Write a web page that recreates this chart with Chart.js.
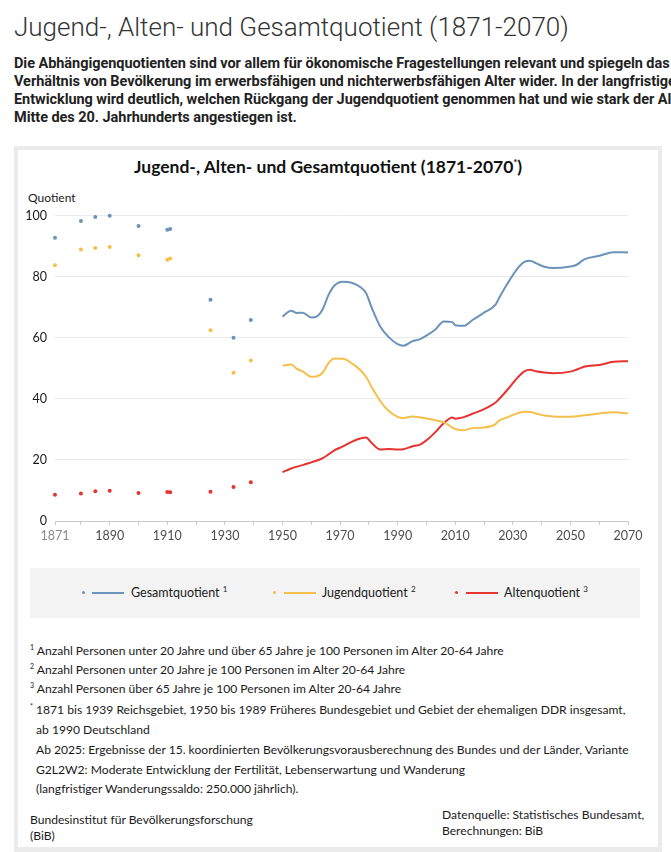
<!DOCTYPE html>
<html lang="de">
<head>
<meta charset="utf-8">
<title>Jugend-, Alten- und Gesamtquotient (1871-2070)</title>
<script src="https://cdn.jsdelivr.net/npm/chart.js@4.4.1/dist/chart.umd.min.js"></script>
<style>
    body { margin: 0; width: 671px; height: 852px; overflow: hidden; background: #fff; position: relative; font-family: 'Lato', sans-serif; color: #1a1a1a; }
    .pos { position: absolute; white-space: nowrap; }
    #pageTitle { left: 14px; top: 12px; font-family: 'Roboto', sans-serif; font-weight: 300; font-size: 26px; color: #333; }
    #intro { left: 14px; top: 55px; width: 657px; overflow: hidden; font-family: 'Roboto', sans-serif; font-weight: 700; font-size: 14.5px; line-height: 18px; color: #222; letter-spacing: -0.05px; }
    #frame { left: 14px; top: 146px; width: 640px; height: 697px; border: 4px solid #ebebeb; border-bottom-width: 13px; background: #fff; }
    #chartTitle { left: 4px; width: 648px; top: 156px; text-align: center; font-weight: 700; font-size: 17.5px; color: #111; }
    #chartTitle sup { font-size: 9px; }
    #yTitle { left: 28px; top: 190px; font-size: 12px; color: #1a1a1a; }
    #chartBox { left: 18px; top: 200px; width: 640px; height: 350px; }
    #legend { left: 30px; top: 568px; width: 610px; height: 50px; background: #f3f3f3; }
    .lg-dot { position: absolute; width: 3px; height: 3px; border-radius: 50%; top: 23px; }
    .lg-line { position: absolute; height: 2px; width: 32px; top: 23.5px; }
    .lg-text { position: absolute; top: 16px; font-size: 12.5px; color: #1a1a1a; }
    .lg-text sup { font-size: 8px; }
    .note { left: 30px; font-size: 12.1px; color: #1a1a1a; }
    .note sup { font-size: 7px; }
</style>
</head>
<body>
<div id="pageTitle" class="pos">Jugend-, Alten- und Gesamtquotient (1871-2070)</div>
<div id="intro" class="pos">Die Abhängigenquotienten sind vor allem für ökonomische Fragestellungen relevant und spiegeln das<br>Verhältnis von Bevölkerung im erwerbsfähigen und nichterwerbsfähigen Alter wider. In der langfristigen<br>Entwicklung wird deutlich, welchen Rückgang der Jugendquotient genommen hat und wie stark der Altenquotient seit<br>Mitte des 20. Jahrhunderts angestiegen ist.</div>
<div id="frame" class="pos"></div>
<div id="chartTitle" class="pos">Jugend-, Alten- und Gesamtquotient (1871-2070<sup>*</sup>)</div>
<div id="yTitle" class="pos">Quotient</div>
<div id="chartBox" class="pos"><canvas id="myChart"></canvas></div>
<div id="legend" class="pos">
    <div class="lg-dot" style="left:52px;background:#6b93ba"></div>
    <div class="lg-line" style="left:62px;background:#6b93ba"></div>
    <div class="lg-text" style="left:101px">Gesamtquotient <sup>1</sup></div>
    <div class="lg-dot" style="left:243px;background:#f4bf4c"></div>
    <div class="lg-line" style="left:254px;background:#f4bf4c"></div>
    <div class="lg-text" style="left:292px">Jugendquotient <sup>2</sup></div>
    <div class="lg-dot" style="left:425px;background:#e5332f"></div>
    <div class="lg-line" style="left:436px;background:#e5332f"></div>
    <div class="lg-text" style="left:474px">Altenquotient <sup>3</sup></div>
</div>
<div class="pos note" style="top:643px"><sup>1</sup> Anzahl Personen unter 20 Jahre und über 65 Jahre je 100 Personen im Alter 20-64 Jahre</div>
<div class="pos note" style="top:662px"><sup>2</sup> Anzahl Personen unter 20 Jahre je 100 Personen im Alter 20-64 Jahre</div>
<div class="pos note" style="top:681px"><sup>3</sup> Anzahl Personen über 65 Jahre je 100 Personen im Alter 20-64 Jahre</div>
<div class="pos note" style="top:702px"><sup>*</sup> 1871 bis 1939 Reichsgebiet, 1950 bis 1989 Früheres Bundesgebiet und Gebiet der ehemaligen DDR insgesamt,</div>
<div class="pos note" style="top:722px;left:36px">ab 1990 Deutschland</div>
<div class="pos note" style="top:742px;left:36px">Ab 2025: Ergebnisse der 15. koordinierten Bevölkerungsvorausberechnung des Bundes und der Länder, Variante</div>
<div class="pos note" style="top:762px;left:36px">G2L2W2: Moderate Entwicklung der Fertilität, Lebenserwartung und Wanderung</div>
<div class="pos note" style="top:781px;left:36px">(langfristiger Wanderungssaldo: 250.000 jährlich).</div>
<div class="pos note" style="top:812px">Bundesinstitut für Bevölkerungsforschung</div>
<div class="pos note" style="top:828px">(BiB)</div>
<div class="pos note" style="top:807px;left:442px">Datenquelle: Statistisches Bundesamt,</div>
<div class="pos note" style="top:823px;left:442px">Berechnungen: BiB</div>

<script>
// historische Einzelwerte (1871-1939)
var histYears   = [1871, 1880, 1885, 1890, 1900, 1910, 1911, 1925, 1933, 1939];
var histGesamt  = [92.7, 98.2, 99.5, 99.9, 96.6, 95.3, 95.6, 72.4, 60.0, 65.8];
var histJugend  = [83.7, 88.9, 89.4, 89.7, 87.0, 85.5, 85.9, 62.4, 48.5, 52.5];
var histAlten   = [8.6, 9.0, 9.7, 9.9, 9.2, 9.5, 9.4, 9.6, 11.1, 12.7];

// Zeitreihe ab 1950 (ab 2025 Vorausberechnung)
var lineYears = [1950, 1953, 1955, 1957, 1960, 1962, 1964, 1966, 1968, 1971, 1974, 1977, 1979, 1981, 1984, 1987, 1990, 1992, 1995, 1998,
                 2001, 2003, 2006, 2009, 2010, 2013, 2016, 2020, 2024, 2025, 2028, 2032, 2034, 2036, 2038, 2041, 2044, 2050, 2052, 2055,
                 2060, 2065, 2070];
var gesamt = [66.9, 68.8, 68.1, 68.2, 66.6, 67.0, 69.4, 74.0, 77.0, 78.3, 78.0, 76.6, 74.6, 69.8, 63.6, 60.1, 57.9, 57.4, 58.8, 59.6,
              61.3, 62.6, 65.3, 65.1, 64.1, 63.9, 65.8, 68.2, 70.8, 72.6, 77.5, 83.1, 84.8, 85.2, 84.4, 83.2, 82.8, 83.3, 83.8, 85.7,
              86.8, 88.0, 87.9];
var jugend = [50.8, 51.2, 49.8, 49.0, 47.2, 47.4, 48.6, 51.7, 53.2, 53.1, 51.7, 49.4, 47.2, 43.8, 39.2, 35.9, 34.1, 33.7, 34.2, 33.9,
              33.4, 33.0, 32.3, 30.6, 30.1, 29.7, 30.4, 30.6, 31.7, 32.7, 33.9, 35.4, 35.8, 35.7, 35.2, 34.5, 34.2, 34.1, 34.3, 34.6,
              35.2, 35.6, 35.2];
var alten  = [16.0, 17.2, 17.8, 18.3, 19.2, 19.8, 20.6, 21.8, 23.1, 24.4, 25.9, 27.0, 27.3, 25.5, 23.4, 23.6, 23.4, 23.5, 24.4, 25.1,
              27.2, 29.0, 32.0, 33.9, 33.5, 34.0, 35.1, 36.6, 38.8, 39.7, 42.8, 47.3, 49.0, 49.5, 49.0, 48.6, 48.4, 48.9, 49.5, 50.6,
              51.1, 52.1, 52.3];

var xTickYears  = [1871, 1880, 1890, 1900, 1910, 1920, 1930, 1940, 1950, 1960, 1970, 1980, 1990, 2000, 2010, 2020, 2030, 2040, 2050, 2060, 2070];
var xLabelYears = [1871, 1890, 1910, 1930, 1950, 1970, 1990, 2010, 2030, 2050, 2070];

const BLUE = '#6b93ba';
const YELLOW = '#f4bf4c';
const RED = '#e5332f';

function pairs(xs, ys){
    return xs.map((x, i) => ({ x: x, y: ys[i] }));
}

function dots(xs, ys, color){
    return {
        data: pairs(xs, ys),
        showLine: false,
        pointRadius: 2,
        pointBorderWidth: 0,
        pointBackgroundColor: color,
        borderColor: color
    };
}

function curve(xs, ys, color){
    return {
        data: pairs(xs, ys),
        borderColor: color,
        borderWidth: 2,
        pointRadius: 0,
        fill: false,
        tension: 0.35,
        cubicInterpolationMode: 'monotone'
    };
}

const ctx = document.getElementById('myChart').getContext('2d');
const myChart = new Chart(ctx, {
    type: 'line',
    data: {
        datasets: [
            dots(histYears, histGesamt, BLUE),
            dots(histYears, histJugend, YELLOW),
            dots(histYears, histAlten, RED),
            curve(lineYears, gesamt, BLUE),
            curve(lineYears, jugend, YELLOW),
            curve(lineYears, alten, RED)
        ]
    },
    options: {
        responsive: true,
        maintainAspectRatio: false,
        animation: false,
        clip: false,
        layout: { padding: { left: 0, right: 30, top: 10, bottom: 0 } },
        plugins: {
            legend: { display: false },
            title: { display: false },
            tooltip: { enabled: false }
        },
        scales: {
            x: {
                type: 'linear',
                min: 1871,
                max: 2070,
                afterBuildTicks: scale => { scale.ticks = xTickYears.map(v => ({ value: v })); },
                afterFit: scale => { scale.height = 29; },
                grid: { drawOnChartArea: false, drawTicks: true, tickLength: 4, color: '#c9c9c9' },
                border: { color: '#c9c9c9' },
                ticks: {
                    autoSkip: false,
                    maxRotation: 0,
                    padding: 3,
                    font: { family: 'Lato', size: 12.5 },
                    color: c => c.tick && c.tick.value === 1871 ? '#8a8a8a' : '#4d4d4d',
                    callback: v => xLabelYears.includes(v) ? String(v) : ''
                }
            },
            y: {
                min: 0,
                max: 100,
                afterFit: scale => { scale.width = 37; },
                grid: {
                    color: c => c.tick && c.tick.value === 0 ? '#c9c9c9' : '#ebebeb',
                    drawTicks: false,
                    lineWidth: 1
                },
                border: { display: false },
                ticks: {
                    stepSize: 20,
                    padding: 8,
                    font: { family: 'Lato', size: 12.5 },
                    color: '#1a1a1a'
                }
            }
        }
    }
});
</script>
</body>
</html>
